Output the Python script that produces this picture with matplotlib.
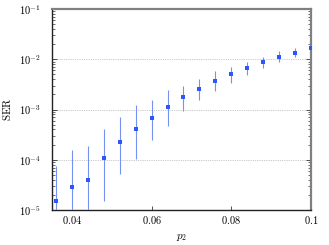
import matplotlib
matplotlib.use("Agg")
import matplotlib.pyplot as plt
import numpy as np
from matplotlib.ticker import FixedLocator, FuncFormatter, LogLocator, NullFormatter

plt.rcParams['mathtext.fontset'] = 'cm'
plt.rcParams['font.family'] = 'serif'

p2 = [0.036, 0.040, 0.044, 0.048, 0.052, 0.056, 0.060, 0.064, 0.068,
      0.072, 0.076, 0.080, 0.084, 0.088, 0.092, 0.096, 0.100]
ser = [1.5e-5, 2.9e-5, 3.95e-5, 1.1e-4, 2.22e-4, 4.0e-4, 6.7e-4, 1.13e-3, 1.75e-3,
       2.6e-3, 3.69e-3, 5.16e-3, 6.7e-3, 8.7e-3, 1.1e-2, 1.35e-2, 1.65e-2]
ser_upper = [7.6e-5, 1.58e-4, 1.9e-4, 4.0e-4, 7.0e-4, 1.21e-3, 1.56e-3, 2.5e-3, 3.0e-3,
             4.05e-3, 5.75e-3, 7.1e-3, 8.7e-3, 1.1e-2, 1.46e-2, 1.7e-2, 2.04e-2]
ser_lower = [1e-6, 1e-6, 1e-6, 1.5e-5, 5.1e-5, 1.02e-4, 2.47e-4, 4.77e-4, 9.3e-4,
             1.55e-3, 2.33e-3, 3.37e-3, 4.86e-3, 6.8e-3, 8.7e-3, 1.12e-2, 1.37e-2]
xticks = [0.04, 0.06, 0.08, 0.1]
xticklabels = ['0.04', '0.06', '0.08', '0.1']

ser_a = np.array(ser)
yerr = [ser_a - np.array(ser_lower), np.array(ser_upper) - ser_a]

fig = plt.figure(figsize=(3.29, 2.45), dpi=100)
ax = fig.add_axes([52/329, 35/245, (311-52)/329, (210-9)/245])

ax.set_yscale('log')
ax.set_xlim(0.035, 0.1)
ax.set_ylim(1e-5, 1e-1)

for yv in [1e-4, 1e-3, 1e-2]:
    ax.axhline(yv, color='#c4c4c4', lw=0.6, ls=(0, (1.5, 1.2)), zorder=0)

ax.errorbar(p2, ser, yerr=yerr, fmt='s', ms=2.4, color='#2f55ff',
            ecolor='#7592f2', elinewidth=0.8, capsize=1.5, capthick=0.6,
            markeredgewidth=0, zorder=3)

ax.set_xticks(xticks)
ax.set_xticklabels(['$%s$' % t for t in xticklabels])

ax.yaxis.set_major_locator(FixedLocator([1e-5, 1e-4, 1e-3, 1e-2, 1e-1]))
ax.yaxis.set_major_formatter(FuncFormatter(lambda v, p: r'$10^{%d}$' % int(round(np.log10(v)))))
ax.yaxis.set_minor_locator(LogLocator(base=10, subs=np.arange(2, 10), numticks=20))
ax.yaxis.set_minor_formatter(NullFormatter())

ax.tick_params(axis='both', which='both', direction='in', labelsize=7.5, color='#333333')
ax.tick_params(axis='y', which='major', length=3.5, width=0.6, left=True, right=True, pad=8)
ax.tick_params(axis='y', which='minor', length=2, width=0.5, left=True, right=True)
ax.tick_params(axis='x', which='major', length=3, width=0.6, top=False, pad=3)

for s in ['left', 'bottom']:
    ax.spines[s].set_color('#222222')
    ax.spines[s].set_linewidth(1.0)
for s in ['top', 'right']:
    ax.spines[s].set_color('#808080')
    ax.spines[s].set_linewidth(1.6)

ax.set_ylabel(r'$\mathrm{SER}$', fontsize=8)
ax.yaxis.set_label_coords(-39/259, 0.5)
ax.set_xlabel(r'$p_2$', fontsize=8)
ax.xaxis.set_label_coords(0.5, -(232-210)/201)

fig.savefig('out.png', dpi=100)
